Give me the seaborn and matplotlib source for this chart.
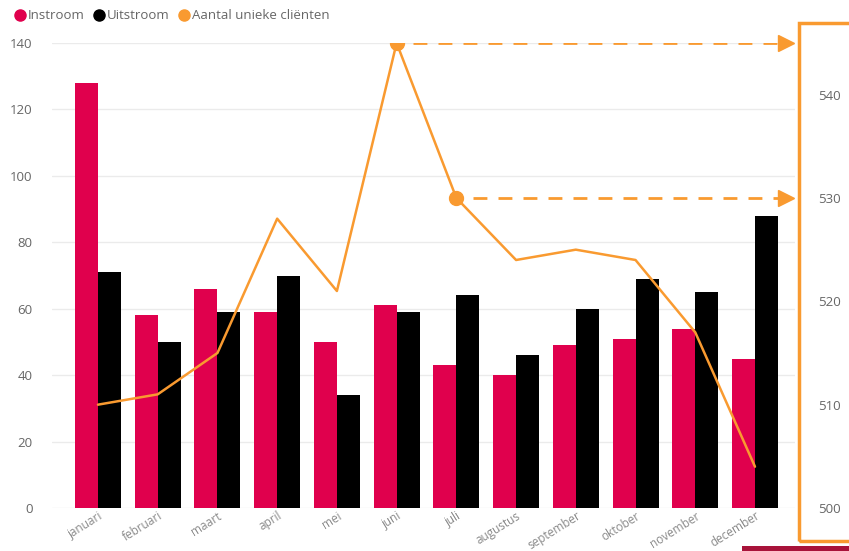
import matplotlib
matplotlib.use('Agg')
import matplotlib.pyplot as plt
import matplotlib.patches as patches
from matplotlib.lines import Line2D
import pandas as pd
import seaborn as sns

maanden = ['januari', 'februari', 'maart', 'april', 'mei', 'juni', 'juli',
           'augustus', 'september', 'oktober', 'november', 'december']
instroom = [128, 58, 66, 59, 50, 61, 43, 40, 49, 51, 54, 45]
uitstroom = [71, 50, 59, 70, 34, 59, 64, 46, 60, 69, 65, 88]
unieke_clienten = [510, 511, 515, 528, 521, 545, 530, 524, 525, 524, 517, 504]

PINK = '#E0004D'
ORANGE = '#F99A30'
GREY = '#666666'

sns.set_style('white')
plt.rcParams['font.family'] = ['Open Sans', 'DejaVu Sans']

df = pd.DataFrame({'maand': maanden * 2,
                   'aantal': instroom + uitstroom,
                   'soort': ['Instroom'] * 12 + ['Uitstroom'] * 12})

fig = plt.figure(figsize=(8.49, 5.51), dpi=100)
ax = fig.add_axes([52 / 849, 43 / 551, 743 / 849, 465 / 551])
sns.barplot(data=df, x='maand', y='aantal', hue='soort', order=maanden,
            palette={'Instroom': PINK, 'Uitstroom': 'black'},
            width=0.77, gap=0, saturation=1, linewidth=0,
            ax=ax, legend=False)
ax.set_xlim(-0.77, 11.67)
ax.set_ylim(0, 140)
ax.set_yticks(range(0, 141, 20))
ax.yaxis.grid(True, color='#EBEBEB', lw=1)
ax.set_axisbelow(True)
for s in ax.spines.values():
    s.set_visible(False)
ax.set_xlabel('')
ax.set_ylabel('')
ax.tick_params(axis='y', length=0, pad=14, labelsize=9.5, labelcolor=GREY)
ax.tick_params(axis='x', length=0, pad=1, labelsize=8.5, labelcolor='#8A8A8A')
plt.setp(ax.get_xticklabels(), rotation=32, ha='right', rotation_mode='anchor')

ax2 = ax.twinx()
ax2.plot(range(12), unieke_clienten, color=ORANGE, lw=1.8)
ax2.set_ylim(500, 545)
ax2.set_yticks(range(500, 541, 10))
for s in ax2.spines.values():
    s.set_visible(False)
ax2.tick_params(axis='y', length=0, pad=17, labelsize=9.5, labelcolor=GREY)

# highlighted points with dashed arrows to right axis
for i in [5, 6]:
    v = unieke_clienten[i]
    ax2.plot(i, v, 'o', color=ORANGE, ms=10, zorder=5)
    ax2.plot([i + 0.28, 11.45], [v, v], color=ORANGE, lw=2, dashes=(5, 4))
    ax2.plot(11.52, v, '>', color=ORANGE, ms=11, clip_on=False)

# legend
handles = [Line2D([], [], marker='o', ls='', color=c, ms=8)
           for c in [PINK, 'black', ORANGE]]
fig.legend(handles, ['Instroom', 'Uitstroom', 'Aantal unieke cliënten'],
           loc='upper left', bbox_to_anchor=(0.0, 1.005), ncol=3, frameon=False,
           fontsize=9.5, handletextpad=0.0, columnspacing=0.5,
           labelcolor=GREY, handlelength=1.2)

# box around the right axis
fig.patches.append(patches.Rectangle((799 / 849, 10 / 551), 60 / 849, 518 / 551,
                                     transform=fig.transFigure, fill=False,
                                     edgecolor=ORANGE, lw=2.5))
fig.patches.append(patches.Rectangle((742 / 849, 0), 110 / 849, 5 / 551,
                                     transform=fig.transFigure,
                                     facecolor='#A8133A', edgecolor='none'))

fig.savefig('out.png', dpi=100)
